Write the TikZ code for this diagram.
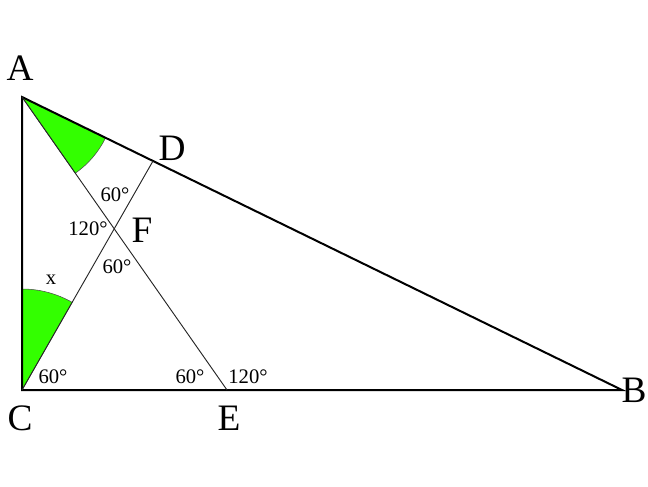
\documentclass[tikz,border=0pt]{standalone}
\usepackage{fontspec}
\setmainfont{Liberation Serif}
\definecolor{sector}{RGB}{51,255,0}

\begin{document}
\begin{tikzpicture}[x = 0.75pt, y = 0.75pt,
	vtx/.style = {font = \fontsize{28}{30}\selectfont},
	ang/.style = {font = \fontsize{15.5}{17}\selectfont, inner sep = 0pt}]

	\useasboundingbox (0, 0) rectangle (648, 486);

	% Points

	\coordinate (A) at (22, 389);
	\coordinate (C) at (22, 96);
	\coordinate (B) at (622, 96);
	\coordinate (E) at (227, 96);
	\coordinate (D) at (153, 325);
	\coordinate (F) at (115, 256);

	% Green sectors

	\filldraw [fill = sector, draw = black!70, thin]
		(A) -- ++(-26.03:93) arc [start angle = -26.03, end angle = -55.03, radius = 93] -- cycle;
	\filldraw [fill = sector, draw = black!70, thin]
		(C) -- ++(90:101) arc [start angle = 90, end angle = 60.2, radius = 101] -- cycle;

	% Triangle

	\draw [line width = 1.5pt] (A) -- (C) -- (B) -- cycle;

	% Inner lines

	\begin{scope}[line width = 0.7pt, black!85]

		\draw (A) -- (E);
		\draw (C) -- (D);

	\end{scope}

	% Labels

	\node [vtx] at (20, 418) {A};
	\node [vtx] at (172, 338) {D};
	\node [vtx] at (142, 256) {F};
	\node [vtx] at (20, 68) {C};
	\node [vtx] at (229, 68) {E};
	\node [vtx] at (634, 96) {B};

	\node [ang] at (115, 291) {60°};
	\node [ang] at (88, 257) {120°};
	\node [ang] at (117, 219) {60°};
	\node [ang] at (51, 206) {x};
	\node [ang] at (53, 109) {60°};
	\node [ang] at (190, 109) {60°};
	\node [ang] at (248, 109) {120°};

\end{tikzpicture}
\end{document}
